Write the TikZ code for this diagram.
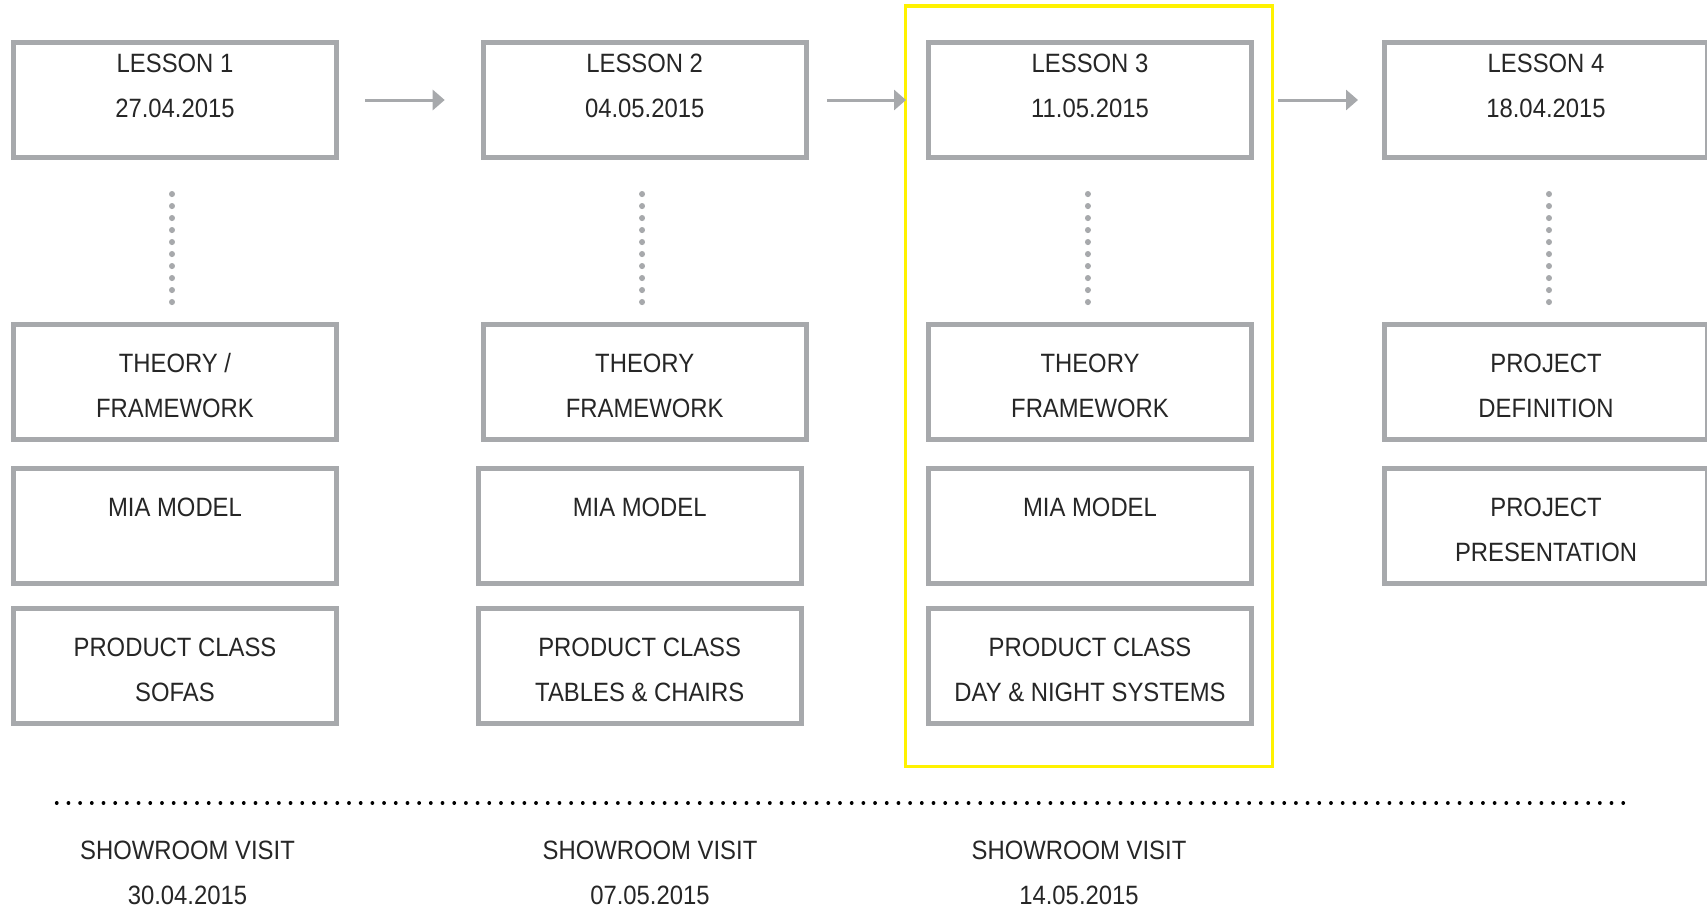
\documentclass[tikz,border=0pt]{standalone}
\usepackage{fontspec}
\setmainfont{Liberation Sans}[FakeStretch=0.9]
\usetikzlibrary{arrows.meta,calc}
\definecolor{boxgray}{HTML}{A7A9AC}
\definecolor{txtdark}{HTML}{262626}
\definecolor{hiyellow}{HTML}{FFF200}
\newcommand{\cellstack}[1]{\begin{tabular}[t]{@{}c@{}}#1\end{tabular}}
\begin{document}
\begin{tikzpicture}[x=1pt,y=-1pt,
  box/.style={draw=boxgray, line width=5pt, minimum width=323pt, minimum height=115pt, inner sep=0pt},
  txt/.style={text=txtdark, anchor=base, inner sep=0pt, font=\fontsize{26.5}{45}\selectfont},
  flow/.style={draw=boxgray, line width=3pt, -{Triangle[length=12pt,width=20pt]}},
  dotv/.style={draw=boxgray, line width=6pt, line cap=round, dash pattern=on 0.1pt off 11.9pt},
  dotrule/.style={draw=black, line width=3.7pt, line cap=round, dash pattern=on 0.1pt off 11.59pt},
  hilite/.style={draw=hiyellow, line width=3.4pt}]
\useasboundingbox (0,0) rectangle (1707,910);
\fill[white] (0,0) rectangle (1707,910);

% highlight frame
\draw[hilite] (905.7,6) rectangle (1272.6,766.3);

% boxes
\node[box] (L1) at (175,100) {};
\node[box] (T1) at (175,382) {};
\node[box] (M1) at (175,526) {};
\node[box] (P1) at (175,666) {};

\node[box] (L2) at (644.7,100) {};
\node[box] (T2) at (644.7,382) {};
\node[box] (M2) at (639.7,526) {};
\node[box] (P2) at (639.7,666) {};

\node[box] (L3) at (1090,100) {};
\node[box] (T3) at (1090,382) {};
\node[box] (M3) at (1090,526) {};
\node[box] (P3) at (1090,666) {};

\node[box] (L4) at (1546,100) {};
\node[box] (T4) at (1546,382) {};
\node[box] (M4) at (1546,526) {};

% box texts
\node[txt] (L1t) at ($(L1.north)+(0,32.5)$) {\cellstack{LESSON 1\\27.04.2015}};
\node[txt] (T1t) at ($(T1.north)+(0,50.8)$) {\cellstack{THEORY /\\FRAMEWORK}};
\node[txt] (M1t) at ($(M1.north)+(0,50.8)$) {\cellstack{MIA MODEL}};
\node[txt] (P1t) at ($(P1.north)+(0,50.8)$) {\cellstack{PRODUCT CLASS\\SOFAS}};

\node[txt] (L2t) at ($(L2.north)+(0,32.5)$) {\cellstack{LESSON 2\\04.05.2015}};
\node[txt] (T2t) at ($(T2.north)+(0,50.8)$) {\cellstack{THEORY\\FRAMEWORK}};
\node[txt] (M2t) at ($(M2.north)+(0,50.8)$) {\cellstack{MIA MODEL}};
\node[txt] (P2t) at ($(P2.north)+(0,50.8)$) {\cellstack{PRODUCT CLASS\\TABLES \& CHAIRS}};

\node[txt] (L3t) at ($(L3.north)+(0,32.5)$) {\cellstack{LESSON 3\\11.05.2015}};
\node[txt] (T3t) at ($(T3.north)+(0,50.8)$) {\cellstack{THEORY\\FRAMEWORK}};
\node[txt] (M3t) at ($(M3.north)+(0,50.8)$) {\cellstack{MIA MODEL}};
\node[txt] (P3t) at ($(P3.north)+(0,50.8)$) {\cellstack{PRODUCT CLASS\\DAY \& NIGHT SYSTEMS}};

\node[txt] (L4t) at ($(L4.north)+(0,32.5)$) {\cellstack{LESSON 4\\18.04.2015}};
\node[txt] (T4t) at ($(T4.north)+(0,50.8)$) {\cellstack{PROJECT\\DEFINITION}};
\node[txt] (M4t) at ($(M4.north)+(0,50.8)$) {\cellstack{PROJECT\\PRESENTATION}};

% flow arrows
\draw[flow] ($(L1.east)+(26,0)$) -- ($(L2.west)+(-36,0)$);
\draw[flow] ($(L2.east)+(18.5,0)$) -- ($(L3.west)+(-20,0)$);
\draw[flow] ($(L3.east)+(24,0)$) -- ($(L4.west)+(-24,0)$);

% dotted vertical links
\draw[dotv] ($(L1.south)+(-3,34)$) -- ($(T1.north)+(-3,-19.5)$);
\draw[dotv] ($(L2.south)+(-2.4,34)$) -- ($(T2.north)+(-2.4,-19.5)$);
\draw[dotv] ($(L3.south)+(-2.3,34)$) -- ($(T3.north)+(-2.3,-19.5)$);
\draw[dotv] ($(L4.south)+(3,34)$) -- ($(T4.north)+(3,-19.5)$);

% horizontal dotted rule
\coordinate (ruleA) at (56.7,803);
\coordinate (ruleB) at (1624,803);
\draw[dotrule] (ruleA) -- (ruleB);

% showroom visits
\node[txt] (S1) at (187.5,859.3) {\cellstack{SHOWROOM VISIT\\30.04.2015}};
\node[txt] (S2) at (650,859.3) {\cellstack{SHOWROOM VISIT\\07.05.2015}};
\node[txt] (S3) at (1079,859.3) {\cellstack{SHOWROOM VISIT\\14.05.2015}};
\end{tikzpicture}
\end{document}
